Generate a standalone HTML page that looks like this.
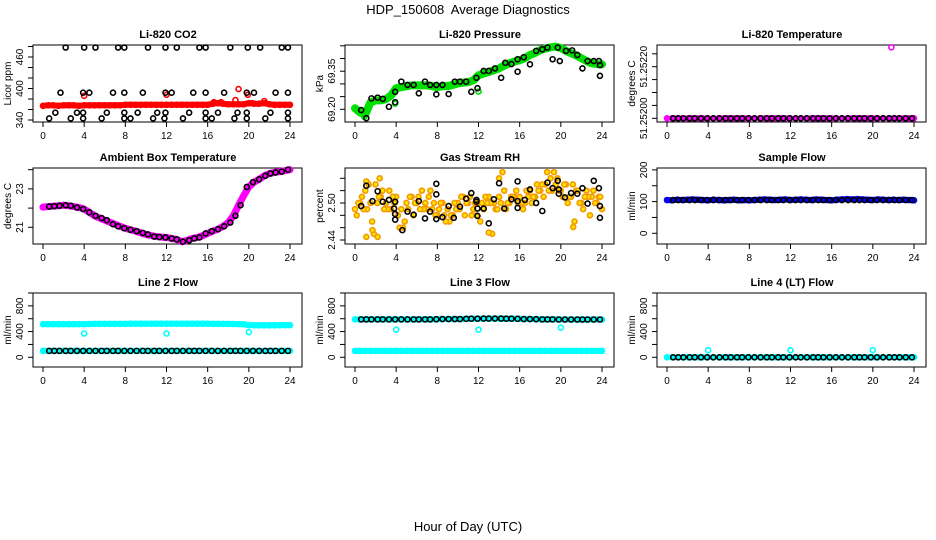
<!DOCTYPE html>
<html><head><meta charset="utf-8"><style>
body{margin:0;background:#fff;}
svg{display:block;font-family:"Liberation Sans",Arial,sans-serif;}
</style></head><body>
<svg id="chart" width="936" height="540" viewBox="0 0 936 540">
<text x="468" y="14" text-anchor="middle" font-size="13" style="white-space:pre">HDP_150608  Average Diagnostics</text>
<text x="468" y="531" text-anchor="middle" font-size="13">Hour of Day (UTC)</text>
</svg>
<script>
const hours = [0,0.5,1,1.5,2,2.5,3,3.5,4,4.5,5,5.5,6,6.5,7,7.5,8,8.5,9,9.5,10,10.5,11,11.5,12,12.5,13,13.5,14,14.5,15,15.5,16,16.5,17,17.5,18,18.5,19,19.5,20,20.5,21,21.5,22,22.5,23,23.5,24];
const blackHours = [0.6,1.1,1.6,2.2,2.7,3.3,3.9,4.5,5.1,5.7,6.2,6.8,7.3,7.9,8.5,9.1,9.7,10.2,10.8,11.3,11.9,12.5,13,13.6,14.2,14.7,15.2,15.8,16.4,17,17.6,18.2,18.7,19.2,19.8,20.4,21,21.6,22.1,22.6,23.2,23.8];
const xTicks = [0,4,8,12,16,20,24];

// CO2
const co2Red = [367,368,368,367,368,368,368,367,368,368,368,368,368,368,368,368,369,369,369,369,369,369,369,369,369,369,369,369,369,369,369,369,369,371,372,371,370,370,370,370,372,371,371,372,370,369,369,369,369];
const co2RedOut = [[4,386],[12,388],[16.6,374],[17.3,374],[18.7,378],[19,399],[19.9,388],[20.3,372],[21.5,376]];
const co2BlackH = [[2.2,478],[4,478],[5.1,478],[7.3,478],[7.9,478],[10.2,478],[11.9,478],[13,478],[15.2,478],[15.8,478],[18.2,478],[19.9,478],[21.1,478],[23.2,478],[23.8,478],
[1.7,392],[3.9,392],[4.5,392],[6.8,392],[7.9,392],[9.7,392],[11.9,392],[12.5,392],[14.6,392],[15.8,392],[17.6,392],[19.8,392],[20.5,392],[22.6,392],[23.8,392],
[1.2,354],[3.3,354],[3.9,354],[6.2,354],[7.9,354],[9.2,354],[11.1,354],[11.9,354],[14.2,354],[15.8,354],[17,354],[18.9,354],[19.8,354],[22.1,354],[23.8,354],
[0.6,343],[2.7,343],[3.9,343],[5.7,343],[7.9,343],[8.5,343],[10.7,343],[11.8,343],[13.6,343],[15.8,343],[16.4,343],[18.6,343],[19.8,343],[21.6,343],[23.8,343]];

// Pressure
const presBand = [69.204,69.187,69.180,69.227,69.235,69.235,69.240,69.254,69.283,69.287,69.291,69.294,69.294,69.294,69.294,69.291,69.287,69.291,69.291,69.296,69.302,69.305,69.307,69.314,69.334,69.341,69.347,69.354,69.361,69.372,69.381,69.388,69.393,69.401,69.414,69.422,69.433,69.439,69.444,69.447,69.441,69.430,69.421,69.412,69.401,69.390,69.381,69.378,69.377];
const presBlack = [[0.6,69.197],[1.1,69.165],[1.6,69.243],[2.2,69.246],[2.7,69.241],[3.3,69.210],[3.9,69.228],[3.9,69.269],[4.5,69.309],[5.1,69.296],[5.7,69.296],[6.2,69.263],[6.8,69.309],[7.3,69.296],[7.9,69.296],[7.9,69.259],[8.5,69.296],[9.1,69.260],[9.7,69.309],[10.2,69.309],[10.8,69.309],[11.3,69.269],[11.8,69.324],[11.9,69.283],[12.5,69.351],[13,69.351],[13.6,69.361],[14.2,69.324],[14.6,69.383],[15.2,69.378],[15.8,69.397],[15.8,69.348],[16.4,69.405],[17,69.377],[17.6,69.430],[18.2,69.436],[18.7,69.443],[19.2,69.397],[19.7,69.443],[19.9,69.390],[20.5,69.430],[21.1,69.432],[21.6,69.414],[22.1,69.361],[22.6,69.390],[23.2,69.390],[23.7,69.390],[23.8,69.374],[23.8,69.332]];
const presGreenOut = [[3.9,69.222],[12,69.270],[0.9,69.170]];

// Li-820 temperature
const tempBase = 51.252;
const tempOut = [[21.8,51.252275]];

// Ambient
const ambient = [22.05,22.08,22.1,22.12,22.15,22.12,22.08,22.03,21.95,21.78,21.6,21.48,21.37,21.26,21.16,21.05,20.95,20.87,20.8,20.71,20.63,20.57,20.52,20.49,20.47,20.42,20.37,20.25,20.32,20.42,20.47,20.56,20.68,20.8,20.9,21.05,21.25,21.6,22.15,22.65,23.1,23.35,23.5,23.68,23.8,23.86,23.9,23.95,24.0];

// RH
const rhA = [2.49,2.50,2.52,2.50,2.53,2.51,2.50,2.49,2.51,2.49,2.50,2.51,2.50,2.52,2.49,2.49,2.48,2.50,2.49,2.48,2.50,2.51,2.50,2.49,2.50,2.49,2.51,2.50,2.51,2.52,2.50,2.51,2.51,2.50,2.52,2.51,2.52,2.53,2.54,2.53,2.52,2.53,2.51,2.52,2.50,2.52,2.51,2.50,2.49];
const rhB = [2.48,2.51,2.49,2.47,2.50,2.52,2.49,2.51,2.48,2.46,2.49,2.48,2.51,2.49,2.51,2.50,2.49,2.48,2.47,2.50,2.49,2.48,2.51,2.50,2.47,2.51,2.50,2.49,2.50,2.49,2.51,2.52,2.50,2.52,2.50,2.53,2.53,2.55,2.52,2.54,2.51,2.50,2.53,2.52,2.49,2.51,2.52,2.51,2.50];
const rhC = [2.50,2.49,2.53,2.45,2.51,2.49,2.52,2.50,2.46,2.47,2.51,2.50,2.49,2.50,2.52,2.48,2.50,2.47,2.48,2.49,2.51,2.50,2.48,2.48,2.50,2.50,2.45,2.49,2.55,2.50,2.51,2.50,2.49,2.51,2.51,2.52,2.51,2.52,2.55,2.52,2.53,2.51,2.47,2.50,2.51,2.48,2.50,2.51,2.50];
const rhOut = [[1.1,2.445],[1.7,2.456],[2.2,2.445],[2.4,2.54],[13,2.452],[14,2.54],[21.2,2.461],[1.1,2.535]];
const rhBlack = [[0.6,2.495],[1.1,2.528],[1.7,2.503],[2.2,2.519],[2.7,2.502],[3.3,2.505],[3.8,2.491],[3.9,2.502],[3.9,2.482],[3.9,2.473],[4.6,2.456],[5.1,2.486],[5.7,2.481],[6.2,2.503],[6.8,2.475],[7.3,2.486],[7.9,2.514],[7.9,2.531],[7.9,2.474],[8.5,2.477],[9.1,2.495],[9.6,2.476],[10.2,2.494],[10.8,2.507],[11.3,2.516],[11.8,2.505],[11.8,2.502],[11.9,2.491],[11.9,2.479],[12.5,2.491],[13,2.467],[13.5,2.506],[14,2.532],[14.5,2.491],[15.2,2.506],[15.8,2.535],[15.8,2.503],[15.8,2.492],[16.5,2.505],[17,2.522],[17.6,2.500],[18.2,2.487],[18.7,2.533],[19.2,2.524],[19.7,2.536],[19.8,2.522],[19.8,2.515],[20.4,2.509],[21,2.516],[21.6,2.515],[22.1,2.524],[22.6,2.499],[23.2,2.536],[23.7,2.524],[23.8,2.495],[23.8,2.476]];

// Flows
const sampleBlue = [105,104,106,105,106,107,106,105,104,106,105,104,105,106,104,105,104,105,106,107,106,105,106,107,105,106,107,106,105,107,106,105,104,106,107,108,107,108,107,106,105,107,106,105,106,105,106,105,104];
const sampleBlack = 105;
const line2Top = [515,515,515,515,515,515,515,515,515,518,520,520,520,520,520,520,520,522,522,522,522,522,522,522,522,522,522,522,522,522,522,522,522,520,520,520,520,518,516,514,500,498,498,498,498,498,500,500,500];
const line2Low = 100;
const line2Out = [[4,370],[12,370],[20,390]];
const line3Top = [590,590,590,590,590,590,590,590,590,590,590,590,590,590,590,590,592,595,595,595,595,595,598,600,600,602,602,602,602,600,600,600,598,595,595,593,590,590,590,590,588,588,588,588,588,588,588,588,588];
const line3Low = 100;
const line3Out = [[4,430],[12,430],[20,460]];
const line4Base = 0;
const line4Out = [[4,110],[12,110],[20,110]];

const NS = "http://www.w3.org/2000/svg";
const svg = document.getElementById("chart");
function mk(tag, attrs, parent){
  const e = document.createElementNS(NS, tag);
  for (const k in attrs) e.setAttribute(k, attrs[k]);
  (parent||svg).appendChild(e);
  return e;
}

function panel(ox, top, bot, y0, v0, pxPerUnit, ticks, labels, title, ylab, name){
  const g = mk("g", {});
  
  
  const sx = h => ox + 43 + h * 247 / 24;
  const sy = v => y0 - (v - v0) * pxPerUnit;
  const t = mk("text", {x: ox + 168, y: top - 7, "text-anchor": "middle", "font-size": 11, "font-weight": "bold"}, g);
  t.textContent = title;
  
  
  const box = mk("rect", {x: ox + 33, y: top, width: 269, height: bot - top, fill: "none", stroke: "#000", "stroke-width": 1}, g);
  
  
  const xa = mk("g", {}, g);
  
  
  mk("line", {x1: sx(0), x2: sx(24), y1: bot, y2: bot, stroke: "#000"}, xa);
  xTicks.forEach(v => {
    mk("line", {x1: sx(v), x2: sx(v), y1: bot, y2: bot + 5, stroke: "#000"}, xa);
    const l = mk("text", {x: sx(v), y: bot + 17, "text-anchor": "middle", "font-size": 10}, xa);
    l.textContent = v;
    
    
  });
  const ya = mk("g", {}, g);
  
  
  const ys = ticks.map(sy);
  mk("line", {x1: ox + 33, x2: ox + 33, y1: Math.max(...ys), y2: Math.min(...ys), stroke: "#000"}, ya);
  ticks.forEach(v => {
    mk("line", {x1: ox + 33, x2: ox + 28, y1: sy(v), y2: sy(v), stroke: "#000"}, ya);
  });
  labels.forEach(([v, s]) => {
    const l = mk("text", {x: ox + 23, y: sy(v), "text-anchor": "middle", "font-size": 10, transform: `rotate(-90 ${ox + 23} ${sy(v)})`}, ya);
    l.textContent = s;
    
    
  });
  const yl = mk("text", {x: ox + 11, y: (top + bot) / 2, "text-anchor": "middle", "font-size": 10, transform: `rotate(-90 ${ox + 11} ${(top + bot) / 2})`}, g);
  yl.textContent = ylab;
  
  
  const pg = mk("g", {}, g);
  
  
  return {sx, sy, g: pg};
}

function band(P, vals, color, w, name){
  const pts = vals.map((v, i) => P.sx(hours[i]) + "," + P.sy(v)).join(" ");
  const e = mk("polyline", {points: pts, fill: "none", stroke: color, "stroke-width": w, "stroke-linejoin": "round", "stroke-linecap": "round"}, P.g);
  
  
  vals.forEach((v, i) => {
    const c = mk("circle", {cx: P.sx(hours[i]), cy: P.sy(v), r: 2.5, fill: "none", stroke: color, "stroke-width": 1.6}, P.g);
    
    
  });
}
function pts(P, arr, color, name, fill){
  arr.forEach(([h, v]) => {
    const c = mk("circle", {cx: P.sx(h), cy: P.sy(v), r: 2.5, fill: fill || "none", stroke: color, "stroke-width": 1.6}, P.g);
    
    
  });
}
function constPts(P, v, color, name){
  pts(P, blackHours.map(h => [h, v]), color, name);
}

// Row 1
let P = panel(0, 45, 122, 120, 340, 0.525, [340,360,380,400,420,440,460,480], [[340,"340"],[400,"400"],[460,"460"]], "Li-820 CO2", "Licor ppm", "co2");
band(P, co2Red, "#ff0000", 6, "co2-red-series");
pts(P, co2RedOut, "#ff0000", "co2-red-outlier");
pts(P, co2BlackH, "#000", "co2-black-point");

P = panel(312, 45, 122, 109.3, 69.2, 254, [69.20,69.25,69.30,69.35,69.40,69.45], [[69.20,"69.20"],[69.35,"69.35"]], "Li-820 Pressure", "kPa", "pressure");
band(P, presBand, "#00e000", 8, "pressure-green-series");
pts(P, presGreenOut, "#00e000", "pressure-green-outlier");
pts(P, presBlack, "#000", "pressure-black-point");

P = panel(624, 45, 122, 118.3, 51.252, 258000, [51.25200,51.25205,51.25210,51.25215,51.25220,51.25225], [[51.252,"51.25200"],[51.2522,"51.25220"]], "Li-820 Temperature", "degrees C", "li820-temp");
band(P, hours.map(() => tempBase), "#ff00ff", 4, "li820-temp-magenta-series");
constPts(P, tempBase, "#000", "li820-temp-black-point");
pts(P, tempOut, "#ff00ff", "li820-temp-outlier");

// Row 2
P = panel(0, 168, 244, 227.3, 21, 19.2, [21,22,23,24], [[21,"21"],[23,"23"]], "Ambient Box Temperature", "degrees C", "ambient");
band(P, ambient, "#ff00ff", 7, "ambient-magenta-series");
pts(P, blackHours.map(h => [h, ambient[Math.round(h * 2)]]), "#000", "ambient-black-point");

P = panel(312, 168, 244, 240, 2.44, 617, [2.44,2.46,2.48,2.50,2.52,2.54], [[2.44,"2.44"],[2.50,"2.50"]], "Gas Stream RH", "percent", "rh");
[[rhA,0],[rhB,0.17],[rhC,0.33]].forEach(([arr, off]) => pts(P, arr.map((v, i) => [hours[i] + off, v]).filter(d => d[0] <= 24), "#f29a00", "rh-orange-point", "#ffe400"));
pts(P, rhOut, "#f29a00", "rh-orange-outlier", "#ffe400");
pts(P, rhBlack, "#000", "rh-black-point");

P = panel(624, 168, 244, 233.3, 0, 0.317, [0,50,100,150,200], [[0,"0"],[100,"100"],[200,"200"]], "Sample Flow", "ml/min", "sample-flow");
band(P, sampleBlue, "#0000ff", 6, "sample-flow-blue-series");
constPts(P, sampleBlack, "#000", "sample-flow-black-point");

// Row 3
const fTicks = [0,200,400,600,800,1000], fLabels = [[0,"0"],[400,"400"],[800,"800"]];
P = panel(0, 293, 367, 357.3, 0, 0.0643, fTicks, fLabels, "Line 2 Flow", "ml/min", "line2");
band(P, line2Top, "#00ffff", 6, "line2-cyan-top-series");
band(P, hours.map(() => line2Low), "#00ffff", 6, "line2-cyan-low-series");
pts(P, line2Out, "#00ffff", "line2-cyan-outlier");
constPts(P, line2Low, "#000", "line2-black-point");

P = panel(312, 293, 367, 357.3, 0, 0.0643, fTicks, fLabels, "Line 3 Flow", "ml/min", "line3");
band(P, line3Top, "#00ffff", 6, "line3-cyan-top-series");
band(P, hours.map(() => line3Low), "#00ffff", 6, "line3-cyan-low-series");
pts(P, line3Out, "#00ffff", "line3-cyan-outlier");
pts(P, blackHours.map((h) => [h, line3Top[Math.round(h * 2)]]), "#000", "line3-black-point");

P = panel(624, 293, 367, 357.3, 0, 0.0643, fTicks, fLabels, "Line 4 (LT) Flow", "ml/min", "line4");
band(P, hours.map(() => line4Base), "#00ffff", 5, "line4-cyan-series");
pts(P, line4Out, "#00ffff", "line4-cyan-outlier");
constPts(P, line4Base, "#000", "line4-black-point");
</script>
</body></html>
